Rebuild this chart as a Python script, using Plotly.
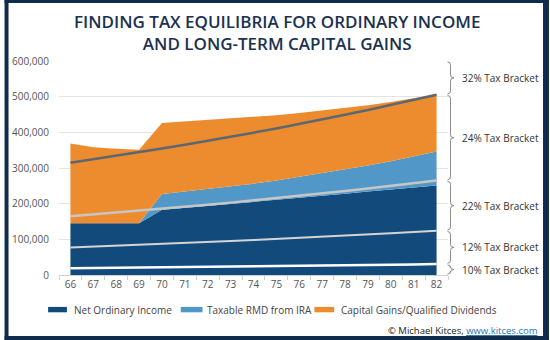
import plotly.graph_objects as go

# ---------------- data ----------------
years = ["66", "67", "68", "69", "70", "71", "72", "73", "74", "75", "76", "77", "78", "79", "80", "81", "82"]

net_ordinary = [145000, 145000, 145000, 145000, 183000, 188000, 194000, 199000, 205000,
                211000, 216000, 222000, 228000, 234000, 240000, 245000, 251000]
rmd = [0, 0, 0, 0, 44000, 46000, 47000, 49000, 51000,
       54000, 59000, 63000, 68000, 73000, 79000, 87000, 95000]
cap_gains = [223500, 213000, 209000, 206500, 199000, 196000, 193000, 190500, 187000,
             183000, 179000, 176000, 172000, 169000, 166000, 163000, 160000]

# tax bracket tops
b10 = [19050, 19600, 20200, 20800, 21400, 22100, 22700, 23400, 24100,
       24900, 25600, 26400, 27200, 28000, 28800, 29700, 30600]
b12 = [77400, 79700, 82100, 84600, 87100, 89700, 92400, 95200, 98100,
       101000, 104000, 107100, 110400, 113700, 117100, 120600, 124200]
b22 = [165000, 170000, 175000, 180300, 185700, 191300, 197000, 202900, 209000,
       215300, 221700, 228400, 235300, 242300, 249600, 257100, 264800]
b24 = [315000, 324500, 334200, 344200, 354500, 365200, 376100, 387400, 399000,
       411000, 423300, 436000, 449100, 462600, 476500, 490800, 505500]

series_names = ["Net Ordinary Income", "Taxable RMD from IRA", "Capital Gains/Qualified Dividends"]
bracket_labels = ["10% Tax Bracket", "12% Tax Bracket", "22% Tax Bracket", "24% Tax Bracket", "32% Tax Bracket"]
y_max = 600000

# ---------------- style ----------------
C_DARK = "#134a7c"
C_LIGHT = "#5198c9"
C_ORANGE = "#ed8c2f"
NAVY = "#0f2c4c"
FONT = "Open Sans"

W, H = 550, 340
ML, MR, MT, MB = 55, 102, 61, 65
PW, PH = W - ML - MR, H - MT - MB


def xp(px):
    return (px - ML) / PW


def yp(py):
    return (H - MB - py) / PH


fig = go.Figure()
for name, vals, col in zip(series_names, [net_ordinary, rmd, cap_gains], [C_DARK, C_LIGHT, C_ORANGE]):
    fig.add_trace(go.Scatter(x=years, y=vals, name=name, stackgroup="one", mode="lines",
                             line=dict(width=0, color=col), fillcolor=col, showlegend=False))

for vals, col, w in [(b10, "#ffffff", 2.5), (b12, "#d4d4d4", 2), (b22, "#c6c6c6", 2.5), (b24, "#5d6771", 2.5)]:
    fig.add_trace(go.Scatter(x=years, y=vals, mode="lines", line=dict(color=col, width=w),
                             showlegend=False, hoverinfo="skip"))

shapes = []
annotations = []

# braces on the right
bounds = [0, b10[-1], b12[-1], b22[-1], b24[-1], y_max]
bx0, bx1, bx2 = xp(447.5), xp(450.5), xp(454)
r = 3.0 / PH
gap = 0.8 / PH
for i, lab in enumerate(bracket_labels):
    lo = bounds[i] / y_max + gap
    hi = bounds[i + 1] / y_max - gap
    mid = (lo + hi) / 2
    path = (f"M {bx0},{hi} Q {bx1},{hi} {bx1},{hi - r} L {bx1},{mid + r} "
            f"Q {bx1},{mid} {bx2},{mid} Q {bx1},{mid} {bx1},{mid - r} "
            f"L {bx1},{lo + r} Q {bx1},{lo} {bx0},{lo}")
    shapes.append(dict(type="path", path=path, xref="paper", yref="paper",
                       line=dict(color="#8a8a8a", width=1)))
    annotations.append(dict(text=lab, x=xp(460.5), y=mid, xref="paper", yref="paper",
                            xanchor="left", yanchor="middle", showarrow=False,
                            font=dict(family=FONT, size=10, color="#333333")))

# legend (custom)
leg_y = yp(309.6)
for (sx0, sx1, tx), name, col in zip([(44, 63, 68), (178, 200, 202.5), (313, 333, 337.5)],
                                      series_names, [C_DARK, C_LIGHT, C_ORANGE]):
    shapes.append(dict(type="rect", xref="paper", yref="paper", x0=xp(sx0), x1=xp(sx1),
                       y0=leg_y - 2.7 / PH, y1=leg_y + 2.7 / PH, fillcolor=col, line=dict(width=0)))
    annotations.append(dict(text=name, x=xp(tx), y=leg_y, xref="paper", yref="paper",
                            xanchor="left", yanchor="middle", showarrow=False,
                            font=dict(family=FONT, size=10, color="#444444")))

# title
annotations.append(dict(text="FINDING TAX EQUILIBRIA FOR ORDINARY INCOME<br>AND LONG-TERM CAPITAL GAINS",
                        x=xp(275), y=yp(32.5), xref="paper", yref="paper", xanchor="center",
                        yanchor="middle", showarrow=False,
                        font=dict(family=FONT, size=17, color="#1b3150", weight=600)))

# footer
annotations.append(dict(text="© Michael Kitces, <span style='color:#2f73b5;text-decoration:underline'>www.kitces.com</span>",
                        x=xp(541), y=yp(330.5), xref="paper", yref="paper", xanchor="right",
                        yanchor="middle", showarrow=False,
                        font=dict(family=FONT, size=9.5, color="#222222")))

# navy frame
for (a, b, c, d) in [(0, 4, 0, H), (W - 6, W, 0, H), (0, W, 0, 3), (0, W, H - 4, H)]:
    shapes.append(dict(type="rect", xref="paper", yref="paper", x0=xp(a), x1=xp(b),
                       y0=yp(d), y1=yp(c), fillcolor=NAVY, line=dict(width=0), layer="above"))

fig.update_layout(
    width=W, height=H,
    margin=dict(l=ML, r=MR, t=MT, b=MB, pad=0),
    paper_bgcolor="white", plot_bgcolor="white",
    showlegend=False,
    shapes=shapes, annotations=annotations,
    xaxis=dict(type="category", tickson="boundaries", ticks="outside", ticklen=4,
               tickcolor="#d0d0d0", showline=True, linecolor="#d0d0d0", linewidth=1,
               showgrid=False, range=[-0.5, 16.5],
               tickfont=dict(family=FONT, size=10, color="#555555")),
    yaxis=dict(range=[0, y_max], tickvals=[0, 100000, 200000, 300000, 400000, 500000, 600000],
               tickformat=",", showgrid=True, gridcolor="#e3e3e3", gridwidth=1,
               zeroline=False, showline=False, ticks="outside", ticklen=7,
               tickcolor="rgba(0,0,0,0)",
               tickfont=dict(family=FONT, size=10, color="#555555")),
)

fig.write_html("out.html")
